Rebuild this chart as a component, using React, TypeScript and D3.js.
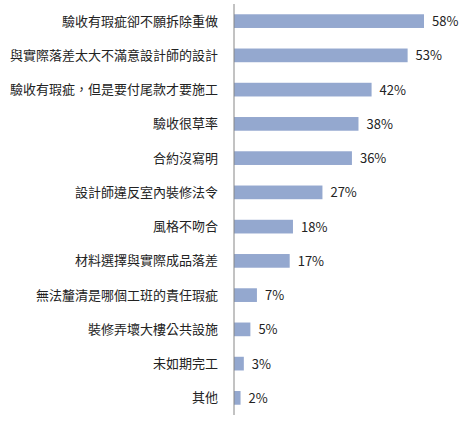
import React, { useRef, useEffect } from 'react';
import * as d3 from 'd3';

const categories = [
  '驗收有瑕疵卻不願拆除重做',
  '與實際落差太大不滿意設計師的設計',
  '驗收有瑕疵，但是要付尾款才要施工',
  '驗收很草率',
  '合約沒寫明',
  '設計師違反室內裝修法令',
  '風格不吻合',
  '材料選擇與實際成品落差',
  '無法釐清是哪個工班的責任瑕疵',
  '裝修弄壞大樓公共設施',
  '未如期完工',
  '其他',
];
const values = [58, 53, 42, 38, 36, 27, 18, 17, 7, 5, 3, 2];

const App: React.FC = () => {
  const svgRef = useRef<SVGSVGElement | null>(null);

  useEffect(() => {
    const width = 462;
    const height = 422;
    const x0 = 234;
    const svg = d3.select(svgRef.current).attr('width', width).attr('height', height);
    svg.selectAll('*').remove();

    const x = d3.scaleLinear().domain([0, 58]).range([x0, 424]);
    const y = d3.scaleBand<string>().domain(categories).range([4, 415]).paddingInner(0.6).paddingOuter(0.3);

    const font = '"Microsoft JhengHei", "Noto Sans CJK TC", sans-serif';

    svg
      .selectAll('rect.bar')
      .data(values)
      .enter()
      .append('rect')
      .attr('class', 'bar')
      .attr('x', x0)
      .attr('y', (d, i) => y(categories[i])!)
      .attr('width', d => x(d) - x0)
      .attr('height', y.bandwidth())
      .attr('fill', '#94a8cf');

    svg
      .append('line')
      .attr('x1', x0)
      .attr('x2', x0)
      .attr('y1', 4)
      .attr('y2', 415)
      .attr('stroke', '#868686')
      .attr('stroke-width', 1);

    svg
      .selectAll('text.cat')
      .data(categories)
      .enter()
      .append('text')
      .attr('class', 'cat')
      .attr('x', 218)
      .attr('y', d => y(d)! + y.bandwidth() / 2)
      .attr('dy', '0.35em')
      .attr('text-anchor', 'end')
      .attr('font-family', font)
      .attr('font-size', 13)
      .attr('fill', '#222')
      .text(d => d);

    svg
      .selectAll('text.val')
      .data(values)
      .enter()
      .append('text')
      .attr('class', 'val')
      .attr('x', d => x(d) + 8)
      .attr('y', (d, i) => y(categories[i])! + y.bandwidth() / 2)
      .attr('dy', '0.38em')
      .attr('font-family', font)
      .attr('font-size', 13)
      .attr('fill', '#222')
      .text(d => `${d}%`);
  }, []);

  return <svg ref={svgRef} style={{ position: 'absolute', left: 0, top: 0 }}></svg>;
};

export default App;
